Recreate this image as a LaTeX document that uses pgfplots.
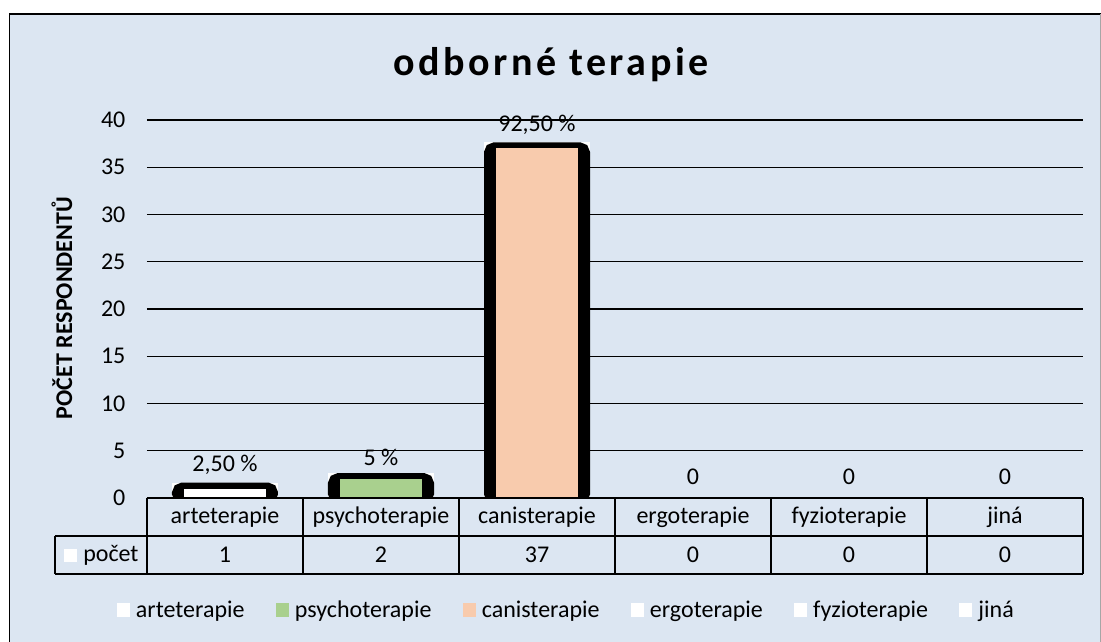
\documentclass[border=0pt]{standalone}
\usepackage{fontspec}
\setmainfont{Carlito}
\usepackage{pgfplots}
\pgfplotsset{compat=1.18}
\definecolor{bgblue}{HTML}{DCE6F2}
\definecolor{pgreen}{HTML}{A9D08E}
\definecolor{ppeach}{HTML}{F8CBAD}
\newcommand\PX[2]{({((#1)-147)*0.75pt},{(498-(#2))*0.75pt})}
\newcommand\txt{\fontsize{18}{21}\selectfont}
\begin{document}
\begin{tikzpicture}
\path[use as bounding box] \PX{0}{0} rectangle \PX{1101}{642};
\fill[white] \PX{0}{0} rectangle \PX{1101}{642};
\fill[bgblue] \PX{9.5}{14} rectangle \PX{1101}{642};
\draw[black, line width=1.1pt] \PX{9.5}{642} -- \PX{9.5}{14} -- \PX{1101}{14};
\draw[gray!70, line width=0.75pt] \PX{1100.5}{14} -- \PX{1100.5}{642};
\begin{axis}[
  at={(0,0)}, anchor=south west,
  scale only axis, width=702pt, height=283.5pt,
  xmin=-0.5, xmax=5.5, ymin=0, ymax=40,
  ytick={0,5,...,40},
  xtick={0,...,5},
  xticklabels={arteterapie,psychoterapie,canisterapie,ergoterapie,fyzioterapie,jiná},
  axis line style={draw=none},
  major tick length=0pt,
  ymajorgrids, major grid style={black, line width=1.1pt},
  tick label style={font=\txt},
  /pgf/number format/assume math mode=true,
  yticklabel style={inner sep=0pt, xshift=-16pt},
  xticklabel style={anchor=center, inner sep=0pt, yshift=-14.25pt},
  every node near coord/.append style={font=\txt, inner sep=0pt, yshift=10pt},
  legend columns=6,
  legend style={draw=none, fill=none, inner sep=0pt, font=\txt,
    at={(axis description cs:0.447,-0.2963)}, anchor=center,
    nodes={inner sep=0pt},
    /tikz/every odd column/.append style={column sep=4.5pt},
    /tikz/every even column/.append style={column sep=23.5pt}},
  legend image code/.code={\fill[#1] (0pt,-4.9pt) rectangle (9.75pt,4.9pt);},
]
% white backing boxes
\addplot[ybar, bar shift=0pt, bar width=70.5pt, fill=white, draw=white, line width=9pt, forget plot]
  coordinates {(0,1) (1,2) (2,37)};
% black rounded frames
\addplot[ybar, bar shift=0pt, bar width=70.5pt, fill=black, draw=black, line width=9pt, rounded corners=3.5pt, forget plot]
  coordinates {(0,1) (1,2) (2,37)};
% coloured bars (series)
\addplot[ybar, bar shift=0pt, bar width=61.5pt, fill=white, draw=none, nodes near coords, point meta=explicit symbolic]
  coordinates {(0,1) [2,50 \%]};
\addlegendentry{arteterapie}
\addplot[ybar, bar shift=0pt, bar width=61.5pt, fill=pgreen, draw=none, nodes near coords, point meta=explicit symbolic]
  coordinates {(1,2) [5 \%]};
\addlegendentry{psychoterapie}
\addplot[ybar, bar shift=0pt, bar width=61.5pt, fill=ppeach, draw=none, nodes near coords, point meta=explicit symbolic]
  coordinates {(2,37) [92,50 \%]};
\addlegendentry{canisterapie}
\addplot[ybar, bar shift=0pt, bar width=61.5pt, fill=white, draw=none, nodes near coords, point meta=explicit symbolic]
  coordinates {(3,0) [0]};
\addlegendentry{ergoterapie}
\addplot[ybar, bar shift=0pt, bar width=61.5pt, fill=white, draw=none, nodes near coords, point meta=explicit symbolic]
  coordinates {(4,0) [0]};
\addlegendentry{fyzioterapie}
\addplot[ybar, bar shift=0pt, bar width=61.5pt, fill=white, draw=none, nodes near coords, point meta=explicit symbolic]
  coordinates {(5,0) [0]};
\addlegendentry{jiná}
\end{axis}
% data table
\draw[line width=1.1pt] \PX{147}{498} -- \PX{1083}{498};
\draw[line width=1.1pt] \PX{55}{536} -- \PX{1083}{536};
\draw[line width=1.1pt] \PX{55}{574} -- \PX{1083}{574};
\draw[line width=1.1pt] \PX{55}{536} -- \PX{55}{574};
\foreach \x in {147,303,459,615,771,927,1083}
  \draw[line width=1.1pt] \PX{\x}{498} -- \PX{\x}{574};
\foreach \x/\v in {225/1,381/2,537/37,693/0,849/0,1005/0}
  \node[font=\txt, inner sep=0pt] at \PX{\x}{555} {\v};
\fill[white] \PX{64}{549} rectangle \PX{77}{562};
\node[font=\txt, anchor=west, inner sep=0pt] at \PX{83}{555} {počet};
% titles
\node[font={\fontsize{30}{34}\selectfont\bfseries\addfontfeature{LetterSpace=9}}] at \PX{551}{65} {odborné terapie};
\node[rotate=90, font={\fontsize{18}{21}\selectfont\bfseries}] at \PX{62}{308} {POČET RESPONDENTŮ};
\end{tikzpicture}
\end{document}
